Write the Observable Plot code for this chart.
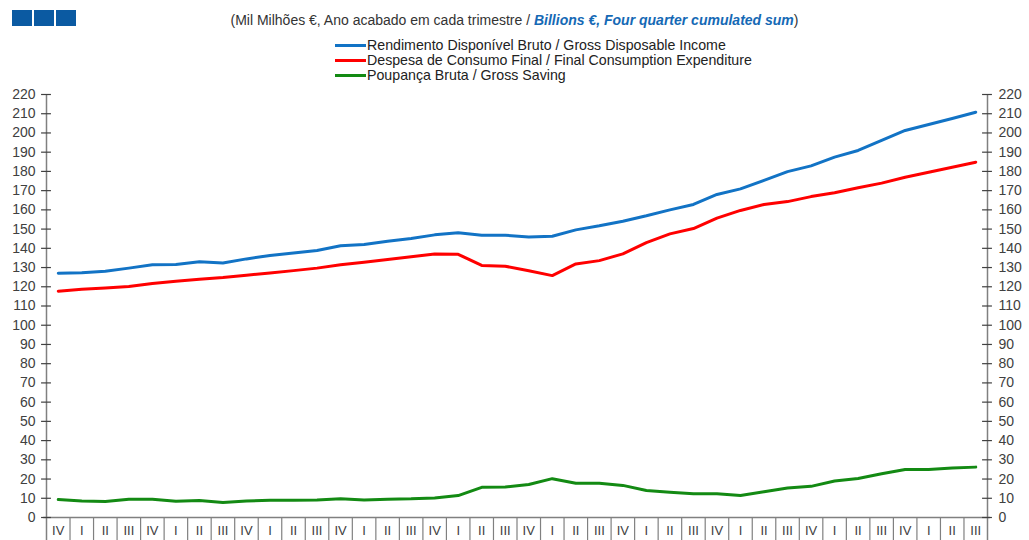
<!DOCTYPE html>
<html>
<head>
<meta charset="utf-8">
<script src="https://cdn.jsdelivr.net/npm/d3@7"></script>
<script src="https://cdn.jsdelivr.net/npm/@observablehq/plot@0.6"></script>
<style>
  html, body { margin: 0; padding: 0; background: #fff; }
  body { width: 1029px; height: 540px; position: relative; overflow: hidden; font-family: "Liberation Sans", Arial, sans-serif; }
  .sq { position: absolute; top: 10px; width: 20px; height: 16px; background: #0B5AA2; }
  #subtitle { position: absolute; top: 12px; left: 0; width: 1029px; text-align: center; font-size: 14px; color: #333; white-space: nowrap; }
  #subtitle b { color: #1569B5; font-style: italic; }
  .leg { position: absolute; left: 335px; height: 15px; }
  .leg .ln { position: absolute; left: 0; top: 6px; width: 31px; height: 3px; }
  .leg .tx { position: absolute; left: 32px; top: 0; font-size: 14.2px; line-height: 15px; color: #222; white-space: nowrap; }
  #chart { position: absolute; left: 0; top: 85px; }
</style>
</head>
<body>
<div class="sq" style="left:12px"></div>
<div class="sq" style="left:34px"></div>
<div class="sq" style="left:56px"></div>
<div id="subtitle">(Mil Milhões €, Ano acabado em cada trimestre / <b>Billions €, Four quarter cumulated sum</b>)</div>
<div id="legend"></div>
<div id="chart"></div>
<script>
const quarters = ["IV",
  "I","II","III","IV","I","II","III","IV","I","II","III","IV",
  "I","II","III","IV","I","II","III","IV","I","II","III","IV",
  "I","II","III","IV","I","II","III","IV","I","II","III","IV",
  "I","II","III"];

const grossDisposableIncome = [127.0,127.3,128.1,129.7,131.4,131.6,133.0,132.4,134.5,136.3,
  137.6,138.9,141.3,142.0,143.7,145.1,147.0,148.1,146.8,146.8,
  145.9,146.3,149.6,151.7,154.1,156.9,160.0,162.8,168.0,170.9,
  175.3,179.9,182.9,187.4,190.9,196.1,201.3,204.4,207.5,210.8];

const finalConsumption = [117.7,118.7,119.4,120.1,121.7,122.9,123.9,124.8,126.0,127.2,
  128.4,129.7,131.4,132.8,134.2,135.6,137.1,136.9,131.1,130.7,
  128.3,125.8,131.9,133.6,137.1,143.0,147.5,150.3,155.7,159.7,
  162.8,164.3,166.9,168.9,171.5,173.9,177.0,179.6,182.2,184.8];

const grossSaving = [9.3,8.6,8.3,9.5,9.5,8.4,8.8,7.8,8.6,9.0,
  9.0,9.1,9.7,9.1,9.5,9.7,10.2,11.4,15.7,15.9,
  17.2,20.2,17.8,17.8,16.7,14.0,13.1,12.4,12.4,11.4,
  13.4,15.3,16.2,19.0,20.3,22.8,25.0,25.0,25.7,26.2];

const seriesNames = [
  "Rendimento Disponível Bruto / Gross Disposable Income",
  "Despesa de Consumo Final / Final Consumption Expenditure",
  "Poupança Bruta / Gross Saving"
];
const seriesColors = ["#1273C5", "#FF0000", "#138A13"];
const yTicks = d3.range(0, 221, 10);

// legend
const legend = document.getElementById("legend");
seriesNames.forEach((name, k) => {
  const row = document.createElement("div");
  row.className = "leg";
  row.style.top = (38 + k * 15) + "px";
  row.innerHTML = `<div class="ln" style="background:${seriesColors[k]}"></div><div class="tx">${name}</div>`;
  legend.appendChild(row);
});

const idx = quarters.map((q, i) => i);
const n = quarters.length;
const left = -0.5, right = n - 0.5;
const innerBounds = d3.range(0.5, n - 1, 1);
const below = -12;

const toRows = arr => arr.map((v, i) => ({i, v}));

const chart = Plot.plot({
  width: 1029,
  height: 455,
  marginLeft: 46,
  marginRight: 42,
  marginTop: 9,
  marginBottom: 23,
  x: {type: "linear", domain: [left, right], axis: null},
  y: {domain: [0, 220], axis: null},
  style: {fontFamily: "'Liberation Sans', Arial, sans-serif", fontSize: "14px", color: "#404040", background: "white", overflow: "visible"},
  marks: [
    Plot.ruleY([0], {x1: left - 0.12, x2: right + 0.12, stroke: "#808080", strokeWidth: 1.5}),
    Plot.ruleX(innerBounds, {x: d => d, y1: 0, y2: below, stroke: "#808080", strokeWidth: 1.2}),
    Plot.ruleX([left, right], {x: d => d, y1: below, y2: 220, stroke: "#808080", strokeWidth: 1.5}),
    Plot.ruleY(yTicks, {y: d => d, x1: left - 0.21, x2: left + 0.21, stroke: "#404040", strokeWidth: 1.2}),
    Plot.ruleY(yTicks, {y: d => d, x1: right - 0.21, x2: right + 0.21, stroke: "#404040", strokeWidth: 1.2}),
    Plot.axisY({anchor: "left", ticks: yTicks, tickSize: 0, tickPadding: 11, fontSize: 14, fill: "#404040", label: null}),
    Plot.axisY({anchor: "right", ticks: yTicks, tickSize: 0, tickPadding: 11, fontSize: 14, fill: "#404040", label: null}),
    Plot.axisX({ticks: idx, tickFormat: i => quarters[i], tickSize: 0, tickPadding: 8, fontSize: 13, fill: "#404040", label: null}),
    Plot.line(toRows(grossSaving), {x: "i", y: "v", stroke: seriesColors[2], strokeWidth: 3}),
    Plot.line(toRows(finalConsumption), {x: "i", y: "v", stroke: seriesColors[1], strokeWidth: 3}),
    Plot.line(toRows(grossDisposableIncome), {x: "i", y: "v", stroke: seriesColors[0], strokeWidth: 3})
  ]
});
document.getElementById("chart").appendChild(chart);
</script>
</body>
</html>
